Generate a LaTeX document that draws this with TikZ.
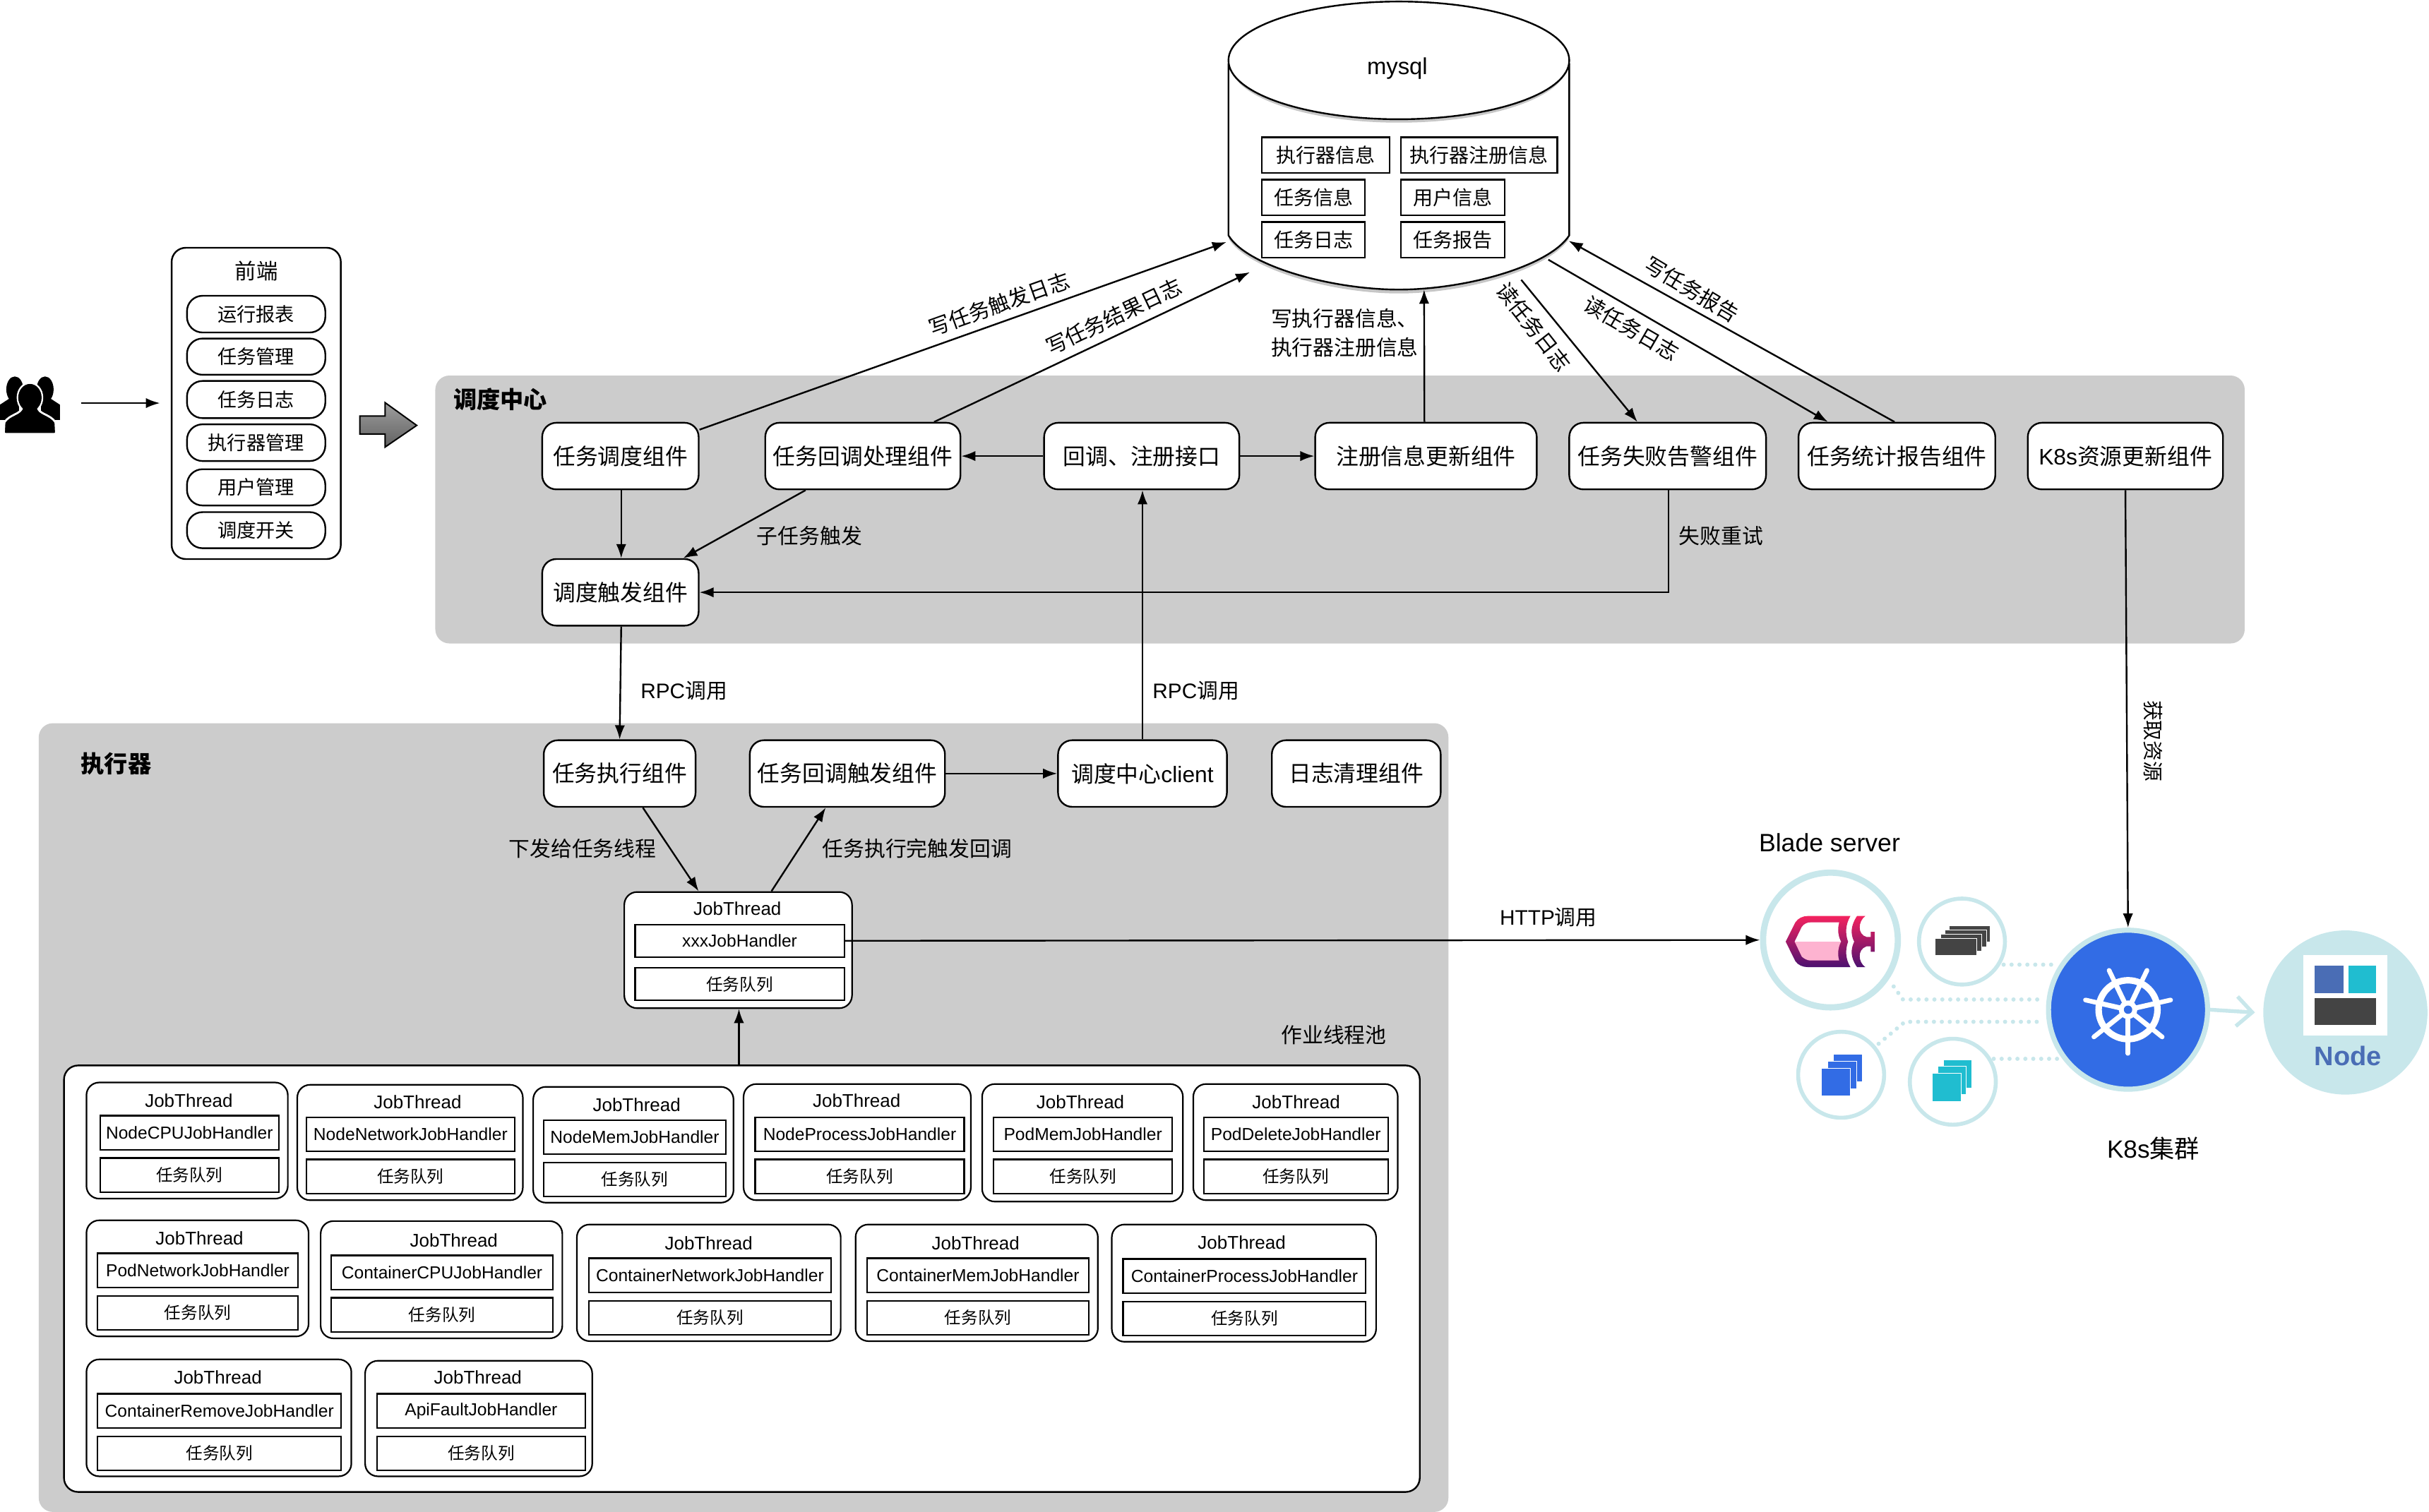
\documentclass[tikz,border=0pt]{standalone}
\usepackage{fontspec}
\setmainfont{Liberation Sans}
\newfontfamily\cjk{Noto Sans CJK SC}
\usetikzlibrary{arrows.meta}
\def\U{0.5485pt}
\newcommand\zh[1]{{\cjk #1}}
\newcommand\fsz[1]{\fontsize{#1}{#1}\selectfont}
\definecolor{panel}{HTML}{CCCCCC}
\definecolor{kring}{HTML}{C8E7EB}
\definecolor{kblue}{HTML}{326CE5}
\definecolor{kteal}{HTML}{20BDD0}
\definecolor{kslate}{HTML}{4A6DB5}
\definecolor{kdark}{HTML}{444444}
\definecolor{bladetop}{HTML}{F4235F}
\definecolor{blademid}{HTML}{A0155F}
\definecolor{bladebot}{HTML}{4C1170}
\definecolor{bladepink}{HTML}{FDB3D0}
\tikzset{
  comp/.style={draw,fill=white,rounded corners=5pt,line width=.6pt,inner sep=0pt,font=\fsz{7.95}},
  pill/.style={draw,fill=white,rounded corners=5.5pt,line width=.6pt,inner sep=0pt,font=\cjk\fsz{6.8}},
  dbbox/.style={draw,fill=white,line width=.55pt,inner sep=0pt,font=\cjk\fsz{7}},
  jobbox/.style={draw,fill=white,rounded corners=4.5pt,line width=.55pt,inner sep=0pt},
  jobin/.style={draw,fill=white,line width=.55pt,inner sep=0pt,font=\fsz{6.15}},
  lab/.style={inner sep=0pt,font=\cjk\fsz{7.45}},
  title/.style={inner sep=0pt,font=\cjk\bfseries\fsz{8.3}},
  jt/.style={inner sep=0pt,font=\fsz{6.5}},
  arr/.style={-{Latex[length=5pt,width=3.6pt]},line width=.6pt},
  dots/.style={kring,line width=1.5pt,line cap=round,dash pattern=on 0pt off 2.8pt},
  ring/.style={circle,draw=kring,fill=white,inner sep=0pt},
  filelayer/.style={draw=white,line width=.25pt},
  bladegrad/.style={top color=bladetop,middle color=blademid,bottom color=bladebot},
}
\newcommand\cmp[7][comp]{\node[#1,minimum width={(#5-#3)*\U},minimum height={(#6-#4)*\U}] (#2) at ({(#3+#5)/2},{(#4+#6)/2}) {#7};}
\newcommand\job[7]{\node[jobbox,minimum width={(#4-#2)*\U},minimum height={(#5-#3)*\U}] (#1box) at ({(#2+#4)/2},{(#3+#5)/2}) {};
  \node[jt] (#1lab) at (#6,#7) {JobThread};}
\newcommand\jobparts[8]{\cmp[jobin]{#1h}{#2}{#4}{#3}{#5}{#8}
  \cmp[jobin]{#1q}{#2}{#6}{#3}{#7}{\zh{\fsz{5.9}任务队列}}}
\begin{document}
\begin{tikzpicture}[x=\U,y=-\U]
\useasboundingbox (0,0) rectangle (1568,976.3);
% panels
\fill[panel,rounded corners=5pt] (281,242.5) rectangle (1449,415.5);
\fill[panel,rounded corners=5pt] (25,467) rectangle (935,976.3);
\node[title] (tsched) at (323,258) {调度中心};
\node[title] (texec) at (75,493) {执行器};
% database
\fill[gray!45] (793,154) .. controls (805,174) and (860,189.5) .. (903,189.5) .. controls (946,189.5) and (1000,174) .. (1013,154) -- cycle;
\draw[fill=white,line width=.6pt] (793,41) -- (793,152) .. controls (805,172) and (860,187) .. (903,187) .. controls (946,187) and (1000,172) .. (1013,152) -- (1013,41);
\fill[gray!45] (903,41.2) ellipse [x radius=109,y radius=38];
\draw[fill=white,line width=.6pt] (903,39) ellipse [x radius=110,y radius=38];
\node[inner sep=0pt,font=\fsz{8.2}] (dbname) at (902,44) {mysql};
\cmp[dbbox]{d1}{814.7}{88.7}{897.2}{111.8}{执行器信息}
\cmp[dbbox]{d2}{904.5}{88.7}{1005.3}{111.8}{执行器注册信息}
\cmp[dbbox]{d3}{814.7}{116}{881.2}{139}{任务信息}
\cmp[dbbox]{d4}{904.5}{116}{971.3}{139}{用户信息}
\cmp[dbbox]{d5}{814.7}{143.4}{881.2}{166.4}{任务日志}
\cmp[dbbox]{d6}{904.5}{143.4}{971.3}{166.4}{任务报告}
\coordinate (dbw) at (791.7,156.3);
\coordinate (dbv) at (806.8,175.8);
\coordinate (dbb) at (919.3,187);
\coordinate (dbc) at (982,180.7);
\coordinate (dbd) at (999.5,167.7);
\coordinate (dbe) at (1012.6,155.5);
% person
\begin{scope}[shift={(0,145.9)},x=0.1116pt,y=-0.0833pt]
\fill (47,695) ellipse [x radius=27,y radius=55];
\fill (143,695) ellipse [x radius=27,y radius=55];
\fill (0,760) -- (40,725) -- (60,725) -- (60,825) -- (0,825) -- cycle;
\fill (190,760) -- (150,725) -- (130,725) -- (130,825) -- (190,825) -- cycle;
\draw[white,fill=black,line width=.7pt] (95,730) ellipse [x radius=39,y radius=62];
\draw[white,fill=black,line width=.7pt] (12,884) -- (14,835) .. controls (30,800) and (70,800) .. (70,770) -- (120,770) .. controls (120,800) and (160,800) .. (176,835) -- (178,884) -- cycle;
\fill (95,730) ellipse [x radius=37,y radius=58];
\fill (18,880) -- (18,838) .. controls (32,808) and (72,805) .. (75,770) -- (115,770) .. controls (118,805) and (158,808) .. (172,838) -- (172,880) -- cycle;
\end{scope}
\coordinate (person) at (52.5,260.3);
% front end
\cmp{fe}{110.8}{160}{220}{361}{}
\node[inner sep=0pt,font=\cjk\fsz{7.6}] (fet) at (165.5,175) {前端};
\cmp[pill]{f1}{120.7}{191}{210}{214.7}{运行报表}
\cmp[pill]{f2}{120.7}{218.6}{210}{242}{任务管理}
\cmp[pill]{f3}{120.7}{246}{210}{270}{任务日志}
\cmp[pill]{f4}{120.7}{274}{210}{297.7}{执行器管理}
\cmp[pill]{f5}{120.7}{303}{210}{326.4}{用户管理}
\cmp[pill]{f6}{120.7}{330.7}{210}{354}{调度开关}
\draw[arr] (person) -- ([xshift=-7*\U]fe.west |- person);
\draw[top color=black!38,bottom color=black!62,line width=.5pt] (232.3,268.6) -- (248.6,268.6) -- (248.6,260) -- (269,274.7) -- (248.6,288.7) -- (248.6,280.3) -- (232.3,280.3) -- cycle;
% scheduling components
\cmp{tsk}{350}{273}{451}{316}{\zh{任务调度组件}}
\cmp{cbp}{494}{273}{620}{316}{\zh{任务回调处理组件}}
\cmp{api}{674}{273}{800}{316}{\zh{回调、注册接口}}
\cmp{reg}{849}{273}{992}{316}{\zh{注册信息更新组件}}
\cmp{alm}{1013}{273}{1140}{316}{\zh{任务失败告警组件}}
\cmp{sta}{1161}{273}{1288}{316}{\zh{任务统计报告组件}}
\cmp{kres}{1309}{273}{1435}{316}{K8s\zh{资源更新组件}}
\cmp{trg}{350}{361}{451}{404}{\zh{调度触发组件}}
% executor components
\cmp{run}{351}{478}{449}{521}{\zh{任务执行组件}}
\cmp{cbt}{484}{478}{610}{521}{\zh{任务回调触发组件}}
\cmp{cli}{683}{478}{792}{521}{\zh{调度中心}client}
\cmp{cln}{821}{478}{930}{521}{\zh{日志清理组件}}
% main job thread
\job{m}{403}{576}{550}{651}{476}{586.5}
\jobparts{m}{410}{545}{597}{618}{625}{646}{xxxJobHandler}
% pool
\cmp{pool}{41.3}{688}{916.5}{963.4}{}
\node[lab] (pooll) at (861,668.5) {作业线程池};
\job{a}{55.8}{699}{185.8}{774}{121.9}{710.8}
\jobparts{a}{64.6}{180}{720.4}{742.4}{747.8}{769.7}{NodeCPUJobHandler}
\job{b}{191.9}{700.5}{337.5}{775}{269.6}{711.7}
\jobparts{b}{197.7}{332.3}{721.4}{743.6}{748.7}{770.6}{NodeNetworkJobHandler}
\job{c}{344.2}{701.8}{473.5}{776.6}{411}{713.5}
\jobparts{c}{350.9}{468.6}{723.2}{745.2}{750.6}{772.5}{NodeMemJobHandler}
\job{d}{480}{700}{626.7}{775}{553}{710.8}
\jobparts{d}{487.5}{622.4}{721.4}{743.6}{748.7}{770.6}{NodeProcessJobHandler}
\job{e}{634}{700}{763.6}{775.9}{697.4}{711.7}
\jobparts{e}{641.3}{756.8}{721.4}{743.6}{748.7}{770.6}{PodMemJobHandler}
\job{f}{770.3}{700}{902.3}{775}{836.7}{711.7}
\jobparts{f}{777}{896}{721.4}{743.6}{748.7}{770.6}{PodDeleteJobHandler}
\job{g}{55.8}{788}{199.2}{863}{128.8}{799.7}
\jobparts{g}{62.8}{192.5}{809.3}{831.5}{836.7}{858.9}{PodNetworkJobHandler}
\job{h}{207}{788.5}{363}{864.2}{293}{801}
\jobparts{h}{213.7}{357}{810.7}{832.8}{838}{860}{ContainerCPUJobHandler}
\job{i}{372.4}{790.7}{542.7}{866}{457.5}{802.9}
\jobparts{i}{380}{536.6}{812.5}{834.7}{840}{861.8}{ContainerNetworkJobHandler}
\job{j}{552.3}{790.7}{708.7}{866}{629.8}{802.9}
\jobparts{j}{559.6}{703}{812.5}{834.7}{840}{861.8}{ContainerMemJobHandler}
\job{k}{717.7}{790.7}{888.3}{866.4}{801.6}{802.5}
\jobparts{k}{725}{881.7}{812.9}{835}{840.4}{862.4}{ContainerProcessJobHandler}
\job{l}{55.8}{877.8}{226.8}{953.3}{140.7}{889.4}
\jobparts{l}{63}{220.3}{900}{922}{927.5}{949.4}{ContainerRemoveJobHandler}
\job{n}{235.7}{878.7}{382.3}{953.3}{308.5}{889.4}
\jobparts{n}{243.3}{377.9}{900}{922}{927.5}{949.4}{ApiFaultJobHandler}
% kubernetes cluster: dotted links
\coordinate (s1) at (1293.4,622.9); \coordinate (e1) at (1328,622.9);
\coordinate (s2) at (1222.4,637); \coordinate (b2) at (1228.4,645.4); \coordinate (e2) at (1317.5,645.4);
\coordinate (s3) at (1212.7,674); \coordinate (b3) at (1229.7,659.8); \coordinate (e3) at (1319,659.8);
\coordinate (s4) at (1287,683.7); \coordinate (e4) at (1328,683.7);
\draw[dots] (s1) -- (e1);
\draw[dots] (s2) -- (b2) -- (e2);
\draw[dots] (s3) -- (b3) -- (e3);
\draw[dots] (s4) -- (e4);
\node[ring,line width=2.2pt,minimum size={87*\U}] (blade) at (1181.6,607) {};
\node[ring,line width=1.4pt,minimum size={55.5*\U}] (stk) at (1266.5,608) {};
\node[ring,line width=1.4pt,minimum size={55.5*\U}] (fa) at (1188.5,694) {};
\node[ring,line width=1.4pt,minimum size={55.5*\U}] (fb) at (1260.6,698.5) {};
\node[circle,draw=kring,fill=kblue,line width=1.8pt,inner sep=0pt,minimum size={102.7*\U}] (k8s) at (1373.7,652) {};
\node[circle,fill=kring,inner sep=0pt,minimum size={106*\U}] (nodec) at (1514,653.8) {};
\fill[white] (1487,616.6) rectangle (1541,668.7);
\fill[kslate] (1494.3,623.5) rectangle (1512.8,641.3);
\fill[kteal] (1515.8,623.5) rectangle (1534,641.3);
\fill[kdark] (1494.3,644.5) rectangle (1534,661.8);
\node[inner sep=0pt,text=kslate,font=\bfseries\fsz{9.5}] (nodet) at (1515.6,682) {Node};
\draw[kring,line width=1.35pt,-{Straight Barb[length=5.5pt,width=10.5pt]}] (k8s.east) -- ([xshift=-5*\U]nodec.west);
% kubernetes wheel
\begin{scope}[shift={(k8s.center)}]
\draw[white,line width=2.3pt] (0,0) circle (19);
\foreach \a in {0,...,6} {
  \pgfmathsetmacro\b{90+\a*360/7}
  \draw[white,line width=1.75pt] (\b:3) -- (\b:19);
  \draw[white,line width=1.65pt,line cap=round] (\b:19) -- (\b:28.2);
}
\fill[white] (0,0) circle (6);
\fill[kblue] (0,0) circle (2.7);
\end{scope}
% icons in the small circles
\begin{scope}[shift={(1093.9,519.6)},x=0.16578pt,y=-0.08609pt]
\foreach \i/\ox/\oy in {0/543/497,1/535/515,2/525/533,3/514/551}
  \filldraw[fill=kdark,filelayer] (\ox,\oy) rectangle ++(88,69);
\foreach \ox/\oy in {297/1028,285/1056,271/1086}
  \filldraw[fill=kblue,filelayer] (\ox,\oy) rectangle ++(61,113);
\foreach \ox/\oy in {531/1049,519/1076,508/1105}
  \filldraw[fill=kteal,filelayer] (\ox,\oy) rectangle ++(61,116);
\end{scope}
% Blade icon
\begin{scope}[shift={(1139.5,578.9)},x=0.08333pt,y=-0.08333pt]
\shade[bladegrad]
  (87,192) -- (128,110) .. controls (140,92) and (160,83) .. (180,83) -- (362,83)
  .. controls (340,120) and (340,160) .. (352,192) .. controls (340,225) and (340,265) .. (362,300)
  -- (180,300) .. controls (160,300) and (140,292) .. (128,275) -- cycle;
\fill[white] (125,192) -- (155,130) .. controls (165,115) and (180,110) .. (192,110) -- (314,110)
  .. controls (306,140) and (310,170) .. (322,192) -- cycle;
\fill[bladepink] (125,192) -- (322,192) .. controls (310,215) and (306,245) .. (314,272)
  -- (192,272) .. controls (180,272) and (165,265) .. (155,255) -- cycle;
\shade[bladegrad]
  (390,83) -- (425,83) .. controls (395,105) and (390,160) .. (430,172) -- (448,172) -- (448,150) -- (465,150)
  -- (465,235) -- (448,235) -- (448,212) -- (430,212) .. controls (390,225) and (395,280) .. (425,300)
  -- (390,300) .. controls (362,260) and (362,225) .. (378,192) .. controls (362,160) and (362,125) .. (390,83) -- cycle;
\end{scope}
% cluster labels
\node[inner sep=0pt,font=\fsz{8.9}] (tblade) at (1181,544) {Blade server};
\node[inner sep=0pt,font=\fsz{8.8}] (tk8s) at (1390,741.5) {K8s\zh{集群}};
% connectors
\draw[arr] ([yshift=-5*\U]tsk.north east) -- (dbw);
\draw[arr] ([xshift=46*\U]cbp.north) -- (dbv);
\draw[arr] ([xshift=-1*\U]reg.north) -- (dbb);
\draw[arr] (dbc) -- ([xshift=-19.5*\U]alm.north);
\draw[arr] (dbd) -- ([xshift=-44.5*\U]sta.north);
\draw[arr] ([xshift=-1.5*\U]sta.north) -- (dbe);
\draw[arr] (api.west) -- (cbp.east);
\draw[arr] (api.east) -- (reg.west);
\draw[arr] ([xshift=0.5*\U]tsk.south) -- ([xshift=0.5*\U]trg.north);
\draw[arr] ([xshift=-37*\U]cbp.south) -- ([xshift=40.5*\U]trg.north);
\draw[arr] ([xshift=0.5*\U]alm.south) -- ([xshift=0.5*\U]alm.south |- trg.east) -- (trg.east);
\draw[arr] ([xshift=0.5*\U]trg.south) -- (run.north);
\draw[arr] (cli.north) -- ([xshift=0.5*\U]api.south);
\draw[arr] (cbt.east) -- (cli.west);
\draw[arr] ([xshift=15*\U]run.south) -- ([xshift=-25.5*\U]mbox.north);
\draw[arr] ([xshift=21.5*\U]mbox.north) -- ([xshift=-14*\U]cbt.south);
\draw[arr] ([xshift=0.5*\U]mbox.south |- pool.north) -- ([xshift=0.5*\U]mbox.south);
\draw[arr] (mh.east) -- (blade.west);
\draw[arr] (kres.south) -- (k8s.north);
% labels
\node[lab,rotate=19.6] (l1) at (645,196.5) {写任务触发日志};
\node[lab,rotate=25.4] (l2) at (719,204.5) {写任务结果日志};
\node[lab,align=left,font=\cjk\fontsize{7.45}{10.2}\selectfont] (l3) at (868,215) {写执行器信息、\\执行器注册信息};
\node[lab,rotate=-52] (l4) at (990,211) {读任务日志};
\node[lab,rotate=-30] (l5) at (1053,212) {读任务日志};
\node[lab,rotate=-31] (l6) at (1092,187) {写任务报告};
\node[lab] (l7) at (522.5,346) {子任务触发};
\node[lab] (l8) at (1111,346) {失败重试};
\node[lab,font=\fsz{7.45}] (l9) at (441.5,446) {RPC\zh{调用}};
\node[lab,font=\fsz{7.45}] (l10) at (772,446) {RPC\zh{调用}};
\node[lab] (l11) at (376,548) {下发给任务线程};
\node[lab] (l12) at (592,548) {任务执行完触发回调};
\node[lab,font=\fsz{7.45}] (l13) at (999.5,592.5) {HTTP\zh{调用}};
\node[lab,rotate=-90,font=\cjk\fsz{7.2}] (l14) at (1390,478.5) {获取资源};
\end{tikzpicture}
\end{document}
